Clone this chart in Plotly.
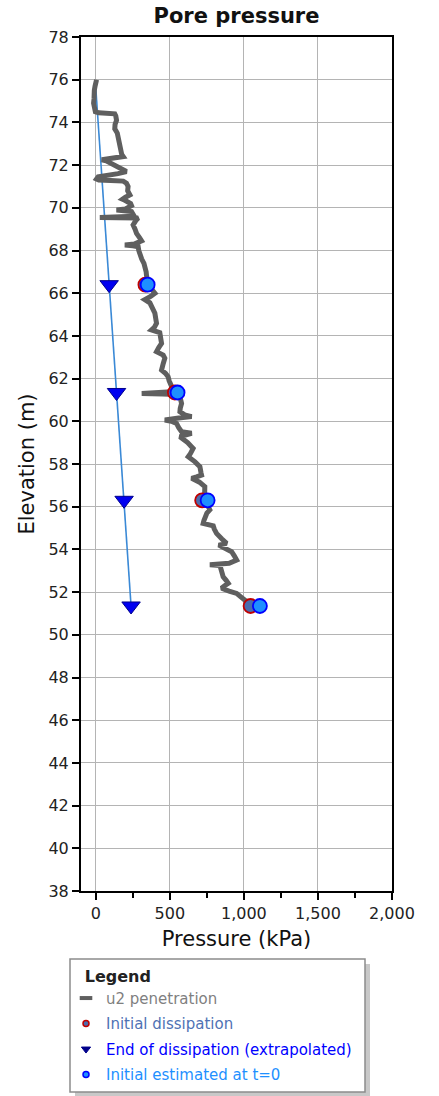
import plotly.graph_objects as go

# u2 penetration profile
u2_elev = [76.0, 75.9, 75.7, 75.5, 75.3, 75.1, 74.9, 74.7, 74.5, 74.45, 74.42, 74.40,
           74.3, 74.1, 73.9, 73.7, 73.5, 73.3, 73.1, 72.9, 72.7, 72.5, 72.4, 72.35,
           72.3, 72.25, 72.2, 72.1, 72.0, 71.85, 71.7, 71.6, 71.54, 71.45, 71.35, 71.3,
           71.28, 71.25, 71.15, 71.0, 70.8, 70.6, 70.5, 70.4, 70.35, 70.2, 70.1, 69.95,
           69.9, 69.85, 69.82, 69.6, 69.56, 69.55, 69.53, 69.52, 69.4, 69.2, 69.0, 68.8,
           68.6, 68.45, 68.3, 68.26, 68.22, 68.18, 68.0, 67.8, 67.6, 67.4, 67.2, 67.0,
           66.85, 66.6, 66.4, 66.2, 66.0, 65.85, 65.7, 65.55, 65.3, 65.06, 64.8, 64.59,
           64.4, 64.28, 64.15, 63.9, 63.65, 63.45, 63.26, 63.1, 62.95, 62.7, 62.4, 62.25,
           62.09, 61.9, 61.78, 61.5, 61.4, 61.32, 61.30, 61.28, 61.26, 61.1, 60.84, 60.6,
           60.45, 60.3, 60.22, 60.15, 60.06, 60.0, 59.9, 59.7, 59.51, 59.44, 59.35, 59.28,
           59.0, 58.73, 58.5, 58.34, 58.1, 57.87, 57.6, 57.48, 57.4, 57.33, 57.15, 56.94,
           56.6, 56.3, 56.0, 55.85, 55.7, 55.53, 55.35, 55.22, 55.1, 54.95, 54.75, 54.5,
           54.28, 54.2, 54.1, 53.89, 53.7, 53.5, 53.35, 53.28, 53.25, 53.0, 52.72, 52.55,
           52.41, 52.3, 52.18, 52.05, 51.94, 51.8, 51.71, 51.6, 51.47, 51.35]
u2_kpa = [5, 0, -5, -10, -15, -12, -15, -8, -3, 20, 80, 128,
          135, 140, 130, 128, 145, 150, 155, 162, 170, 175, 185, 140,
          90, 40, 70, 100, 115, 160, 207, 150, 95, 16, 5, 20,
          100, 185, 207, 218, 215, 230, 200, 180, 196, 235, 241, 200,
          140, 200, 241, 260, 150, 27, 150, 286, 270, 252, 265, 275,
          295, 309, 260, 196, 250, 286, 290, 297, 310, 325, 335, 340,
          342, 350, 355, 375, 399, 370, 331, 365, 385, 399, 405, 410,
          395, 376, 432, 440, 444, 425, 410, 455, 466, 455, 444, 470,
          488, 495, 500, 520, 540, 420, 310, 450, 545, 570, 579, 570,
          568, 600, 647, 560, 466, 510, 545, 560, 579, 647, 600, 568,
          620, 657, 640, 624, 670, 703, 710, 714, 680, 647, 700, 736,
          735, 740, 760, 770, 750, 736, 730, 725, 793, 800, 815, 850,
          883, 830, 860, 917, 935, 951, 900, 770, 838, 850, 860, 880,
          894, 870, 849, 900, 951, 975, 995, 1010, 1018, 1040]

# Dissipation tests
diss_elev = [66.4, 61.35, 56.3, 51.35]
initial_kpa = [335, 534, 718, 1045]
end_kpa = [90, 140, 191, 238]
t0_kpa = [350, 552, 755, 1108]

# Hydrostatic (extrapolated) line
hyd_elev = [75.6, 66.4, 61.35, 56.3, 51.35]
hyd_kpa = [0, 90, 140, 191, 238]

x_ticks = [0, 500, 1000, 1500, 2000]
x_ticklabels = ["0", "500", "1,000", "1,500", "2,000"]
y_ticks = list(range(38, 80, 2))

FONT = "DejaVu Sans"

fig = go.Figure()

fig.add_trace(go.Scatter(
    x=hyd_kpa, y=hyd_elev, mode="lines",
    line=dict(color="#3a89d6", width=1.6),
    showlegend=False, hoverinfo="skip"))

fig.add_trace(go.Scatter(
    x=u2_kpa, y=u2_elev, mode="lines",
    line=dict(color="#5f5f5f", width=5),
    showlegend=False))

fig.add_trace(go.Scatter(
    x=initial_kpa, y=diss_elev, mode="markers",
    marker=dict(symbol="circle", size=14, color="#4a6cae",
                line=dict(color="#c00000", width=1.8)),
    showlegend=False))

fig.add_trace(go.Scatter(
    x=end_kpa, y=diss_elev, mode="markers",
    marker=dict(symbol="triangle-down", size=16, color="#0000f0",
                line=dict(color="#00008b", width=1)),
    showlegend=False))

fig.add_trace(go.Scatter(
    x=t0_kpa, y=diss_elev, mode="markers",
    marker=dict(symbol="circle", size=14, color="#1e8fff",
                line=dict(color="#0000ff", width=1.8)),
    showlegend=False))

# legend-only entries (small symbols as in the reference legend)
legend_entries = [
    ("<span style='color:#7f7f7f'>u2 penetration</span>",
     dict(symbol="line-ew", size=9, color="#5f5f5f", line=dict(color="#5f5f5f", width=4))),
    ("<span style='color:#4f72b4'>Initial dissipation</span>",
     dict(symbol="circle", size=6, color="#4a6cae", line=dict(color="#c00000", width=1.5))),
    ("<span style='color:#0000ff'>End of dissipation (extrapolated)</span>",
     dict(symbol="triangle-down", size=8, color="#00008b", line=dict(color="#00008b", width=1))),
    ("<span style='color:#1e90ff'>Initial estimated at t=0</span>",
     dict(symbol="circle", size=6, color="#1e8fff", line=dict(color="#0000ff", width=1.5))),
]
for i, (nm, mk) in enumerate(legend_entries):
    fig.add_trace(go.Scatter(x=[None], y=[None], mode="markers", marker=mk,
                             name=nm, legendgroup=f"g{i}", showlegend=True))

# legend box + shadow (paper coords: plot area x 81..392px, y 37..891px)
def px_x(p):
    return (p - 81) / 311.0

def px_y(p):
    return (891 - p) / 854.0

shapes = [
    dict(type="rect", xref="paper", yref="paper",
         x0=px_x(75), x1=px_x(370), y0=px_y(1097), y1=px_y(964),
         fillcolor="#c8c8c8", line=dict(width=0), layer="below"),
    dict(type="rect", xref="paper", yref="paper",
         x0=px_x(70), x1=px_x(365), y0=px_y(1092), y1=px_y(959),
         fillcolor="white", line=dict(color="#8c8c8c", width=1.5), layer="below"),
]

fig.update_layout(
    width=439, height=1096,
    margin=dict(l=81, r=47, t=37, b=205, autoexpand=False),
    paper_bgcolor="white", plot_bgcolor="white",
    font=dict(family=FONT, color="#222222"),
    title=dict(text="<b>Pore pressure</b>", x=(236.5 / 439), xanchor="center",
               y=1 - 16 / 1096, yanchor="middle",
               font=dict(family=FONT, size=21, color="#111111")),
    xaxis=dict(range=[-100, 2000], tickvals=x_ticks, ticktext=x_ticklabels,
               ticks="outside", ticklen=7, tickwidth=1.5, tickcolor="#000",
               minor=dict(dtick=250, tick0=0, ticks="outside", ticklen=5,
                          tickcolor="#000", tickwidth=1.5, showgrid=False),
               showgrid=True, gridcolor="#b4b4b4", gridwidth=1,
               showline=True, linecolor="#000", linewidth=2, mirror=True,
               zeroline=False, automargin=False,
               tickfont=dict(family=FONT, size=16, color="#222222"),
               title=dict(text="Pressure (kPa)", standoff=9,
                          font=dict(family=FONT, size=21, color="#111111"))),
    yaxis=dict(range=[38, 78], tickvals=y_ticks,
               ticks="outside", ticklen=7, tickwidth=1.5, tickcolor="#000",
               showgrid=True, gridcolor="#b4b4b4", gridwidth=1,
               showline=True, linecolor="#000", linewidth=2, mirror=True,
               zeroline=False, automargin=False,
               tickfont=dict(family=FONT, size=16, color="#222222"),
               title=dict(text="Elevation (m)", standoff=8,
                          font=dict(family=FONT, size=21, color="#111111"))),
    legend=dict(x=px_x(66), y=px_y(961), xanchor="left", yanchor="top",
                bgcolor="rgba(0,0,0,0)", borderwidth=0,
                title=dict(text="<b>&nbsp;&nbsp;&nbsp;Legend</b>",
                           font=dict(family=FONT, size=16, color="#222222")),
                font=dict(family=FONT, size=15),
                itemsizing="trace", itemwidth=30,
                traceorder="grouped", tracegroupgap=3),
    shapes=shapes,
    showlegend=True,
)

fig.write_html("out.html", config={"displayModeBar": False},
               post_script="document.body.style.margin='0';document.body.style.overflow='hidden';")
